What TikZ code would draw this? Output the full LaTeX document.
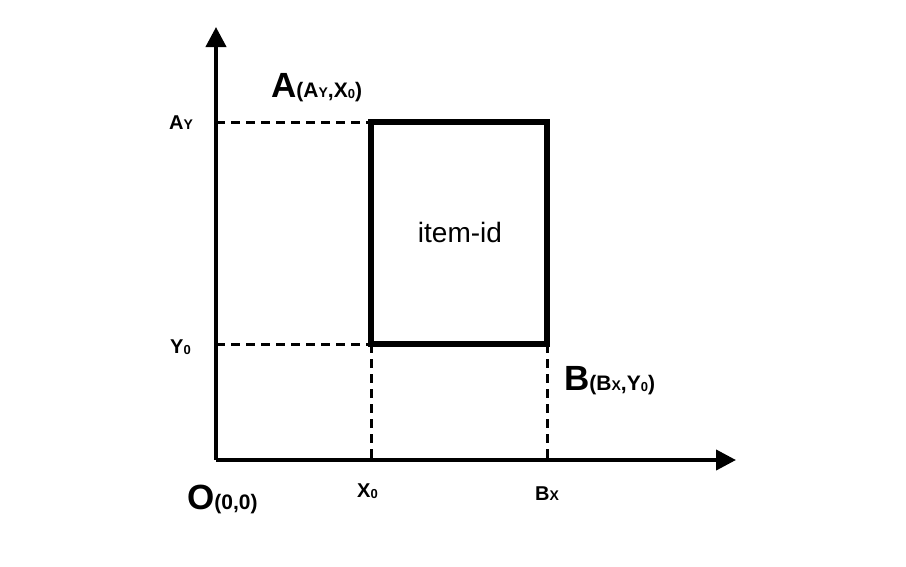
\documentclass[tikz,border=0pt]{standalone}
\usepackage{fontspec}
\setmainfont{Liberation Sans}
\usetikzlibrary{arrows.meta}
\newcommand\mysub[1]{{\fontsize{13}{13}\selectfont\raisebox{-1pt}{#1}}}
\newcommand\mysc[1]{{\fontsize{14}{14}\selectfont #1}}
\begin{document}
\begin{tikzpicture}[x=1pt,y=-1pt,
  axis/.style={line width=4pt,-{Triangle[length=20pt,width=20pt]}},
  guide/.style={line width=3pt,dash pattern=on 9pt off 6pt},
  itembox/.style={draw,line width=6.5pt,outer sep=0pt,inner sep=0pt},
  big/.style={font=\bfseries\fontsize{35}{35}\selectfont,inner sep=0pt,anchor=base west},
  lab/.style={font=\bfseries\fontsize{20}{20}\selectfont,inner sep=0pt,anchor=base west}]
\useasboundingbox (0,0) rectangle (906,566);
\coordinate (O) at (216,460);
\coordinate (ytip) at (216,27);
\coordinate (xtip) at (736,460);
\coordinate (Ay) at (216,122);
\coordinate (Y0) at (216,344);
\coordinate (X0) at (371,460);
\coordinate (Bx) at (547,460);
\coordinate (TL) at (371,122);
\coordinate (BL) at (371,344);
\coordinate (BR) at (547,344);
\draw[guide] (Ay) -- (TL);
\draw[guide] (Y0) -- (BL);
\draw[guide] (BL) -- (X0);
\draw[guide] (BR) -- (Bx);
\draw[axis] (O) -- (ytip);
\draw[axis] (O) -- (xtip);
\node[itembox,minimum width=176pt,minimum height=222pt,anchor=north west] (item) at (TL) {};
\node[font=\fontsize{28}{28}\selectfont] (itemlabel) at (460,232) {item-id};
\node[big] (A) at (271,97) {A\fontsize{21}{21}\selectfont(A\mysc{Y},X\mysub{0})};
\node[big] (B) at (564,390) {B\fontsize{21}{21}\selectfont(B\mysc{X},Y\mysub{0})};
\node[big] (Olab) at (187,509) {O\fontsize{21}{21}\selectfont(0,0)};
\node[lab] (AyL) at (169,129) {A\mysc{Y}};
\node[lab] (Y0L) at (170,353) {Y\mysub{0}};
\node[lab] (X0L) at (357,497) {X\mysub{0}};
\node[lab] (BxL) at (535,500) {B\mysc{X}};
\end{tikzpicture}
\end{document}
